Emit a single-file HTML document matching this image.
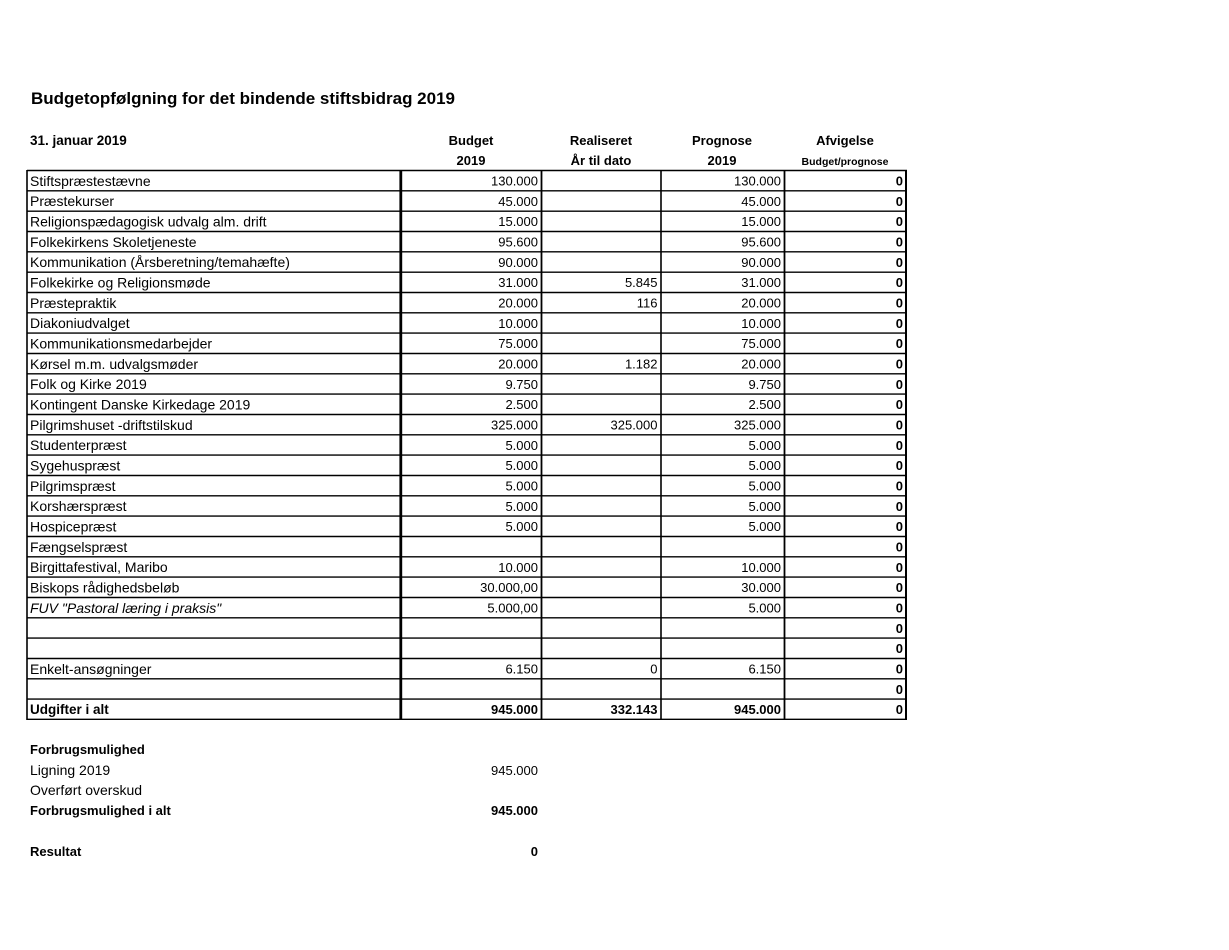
<!DOCTYPE html>
<html>
<head>
<meta charset="utf-8">
<style>
html,body{margin:0;padding:0;background:#fff;}
svg{display:block;}
text{font-family:"Liberation Sans",sans-serif;fill:#000;}
.b{font-weight:bold;}
.r{text-anchor:end;}
.c{text-anchor:middle;}
.l{font-size:14px;}
</style>
</head>
<body>
<svg width="1229" height="950" viewBox="0 0 1229 950" xmlns="http://www.w3.org/2000/svg">
<rect width="1229" height="950" fill="#fff"/>

<!-- Title -->
<text x="31" y="104" class="b" font-size="17" textLength="424" lengthAdjust="spacingAndGlyphs">Budgetopfølgning for det bindende stiftsbidrag 2019</text>

<!-- Header -->
<g font-size="13">
<text x="30" y="145" class="b" font-size="13.5">31. januar 2019</text>
<text x="471" y="145" class="b c">Budget</text>
<text x="471" y="165" class="b c">2019</text>
<text x="601" y="145" class="b c">Realiseret</text>
<text x="601" y="165" class="b c">År til dato</text>
<text x="722" y="145" class="b c">Prognose</text>
<text x="722" y="165" class="b c">2019</text>
<text x="845" y="145" class="b c">Afvigelse</text>
<text x="845" y="165" class="b c" font-size="10.5">Budget/prognose</text>
</g>

<!-- Horizontal lines -->
<g stroke="#000" stroke-width="1.4">
<line x1="27" x2="907" y1="170.5" y2="170.5"/>
<line x1="27" x2="907" y1="190.8" y2="190.8"/>
<line x1="27" x2="907" y1="211.2" y2="211.2"/>
<line x1="27" x2="907" y1="231.5" y2="231.5"/>
<line x1="27" x2="907" y1="251.8" y2="251.8"/>
<line x1="27" x2="907" y1="272.2" y2="272.2"/>
<line x1="27" x2="907" y1="292.5" y2="292.5"/>
<line x1="27" x2="907" y1="312.8" y2="312.8"/>
<line x1="27" x2="907" y1="333.1" y2="333.1"/>
<line x1="27" x2="907" y1="353.5" y2="353.5"/>
<line x1="27" x2="907" y1="373.8" y2="373.8"/>
<line x1="27" x2="907" y1="394.1" y2="394.1"/>
<line x1="27" x2="907" y1="414.5" y2="414.5"/>
<line x1="27" x2="907" y1="434.8" y2="434.8"/>
<line x1="27" x2="907" y1="455.1" y2="455.1"/>
<line x1="27" x2="907" y1="475.5" y2="475.5"/>
<line x1="27" x2="907" y1="495.8" y2="495.8"/>
<line x1="27" x2="907" y1="516.1" y2="516.1"/>
<line x1="27" x2="907" y1="536.5" y2="536.5"/>
<line x1="27" x2="907" y1="556.8" y2="556.8"/>
<line x1="27" x2="907" y1="577.1" y2="577.1"/>
<line x1="27" x2="907" y1="597.5" y2="597.5"/>
<line x1="27" x2="907" y1="617.8" y2="617.8"/>
<line x1="27" x2="907" y1="638.1" y2="638.1"/>
<line x1="27" x2="907" y1="658.5" y2="658.5"/>
<line x1="27" x2="907" y1="678.8" y2="678.8"/>
<line x1="27" x2="907" y1="699.1" y2="699.1"/>
<line x1="27" x2="907" y1="719.3" y2="719.3"/>
</g>
<!-- Vertical lines -->
<g stroke="#000">
<line x1="27" x2="27" y1="170" y2="720" stroke-width="1.6"/>
<line x1="400.8" x2="400.8" y1="170" y2="720" stroke-width="2.8"/>
<line x1="541.5" x2="541.5" y1="170" y2="720" stroke-width="1.8"/>
<line x1="661" x2="661" y1="170" y2="720" stroke-width="1.6"/>
<line x1="784.5" x2="784.5" y1="170" y2="720" stroke-width="1.8"/>
<line x1="906" x2="906" y1="170" y2="720" stroke-width="2"/>
</g>

<!-- Rows -->
<g font-size="13">
<!-- labels -->
<text x="30" y="185.8" class="l">Stiftspræstestævne</text>
<text x="30" y="206.1" class="l">Præstekurser</text>
<text x="30" y="226.5" class="l">Religionspædagogisk udvalg alm. drift</text>
<text x="30" y="246.8" class="l">Folkekirkens Skoletjeneste</text>
<text x="30" y="267.1" class="l">Kommunikation (Årsberetning/temahæfte)</text>
<text x="30" y="287.5" class="l">Folkekirke og Religionsmøde</text>
<text x="30" y="307.8" class="l">Præstepraktik</text>
<text x="30" y="328.1" class="l">Diakoniudvalget</text>
<text x="30" y="348.4" class="l">Kommunikationsmedarbejder</text>
<text x="30" y="368.8" class="l">Kørsel m.m. udvalgsmøder</text>
<text x="30" y="389.1" class="l">Folk og Kirke 2019</text>
<text x="30" y="409.4" class="l">Kontingent Danske Kirkedage 2019</text>
<text x="30" y="429.8" class="l">Pilgrimshuset -driftstilskud</text>
<text x="30" y="450.1" class="l">Studenterpræst</text>
<text x="30" y="470.4" class="l">Sygehuspræst</text>
<text x="30" y="490.8" class="l">Pilgrimspræst</text>
<text x="30" y="511.1" class="l">Korshærspræst</text>
<text x="30" y="531.4" class="l">Hospicepræst</text>
<text x="30" y="551.8" class="l">Fængselspræst</text>
<text x="30" y="572.1" class="l">Birgittafestival, Maribo</text>
<text x="30" y="592.4" class="l">Biskops rådighedsbeløb</text>
<text x="30" y="612.8" class="l" font-style="italic" fill="#222">FUV "Pastoral læring i praksis"</text>
<text x="30" y="673.8" class="l">Enkelt-ansøgninger</text>
<text x="30" y="714.1" class="b" font-size="13.5">Udgifter i alt</text>

<!-- Budget column -->
<text x="538" y="185.5" class="r">130.000</text>
<text x="538" y="205.8" class="r">45.000</text>
<text x="538" y="226.2" class="r">15.000</text>
<text x="538" y="246.5" class="r">95.600</text>
<text x="538" y="266.8" class="r">90.000</text>
<text x="538" y="287.2" class="r">31.000</text>
<text x="538" y="307.5" class="r">20.000</text>
<text x="538" y="327.8" class="r">10.000</text>
<text x="538" y="348.1" class="r">75.000</text>
<text x="538" y="368.5" class="r">20.000</text>
<text x="538" y="388.8" class="r">9.750</text>
<text x="538" y="409.1" class="r">2.500</text>
<text x="538" y="429.5" class="r">325.000</text>
<text x="538" y="449.8" class="r">5.000</text>
<text x="538" y="470.1" class="r">5.000</text>
<text x="538" y="490.5" class="r">5.000</text>
<text x="538" y="510.8" class="r">5.000</text>
<text x="538" y="531.1" class="r">5.000</text>
<text x="538" y="571.8" class="r">10.000</text>
<text x="538" y="592.1" class="r">30.000,00</text>
<text x="538" y="612.5" class="r">5.000,00</text>
<text x="538" y="673.5" class="r">6.150</text>
<text x="538" y="714.1" class="r b">945.000</text>

<!-- Realiseret column -->
<text x="657.5" y="287.2" class="r">5.845</text>
<text x="657.5" y="307.5" class="r">116</text>
<text x="657.5" y="368.5" class="r">1.182</text>
<text x="657.5" y="429.5" class="r">325.000</text>
<text x="657.5" y="673.5" class="r">0</text>
<text x="657.5" y="714.1" class="r b">332.143</text>

<!-- Prognose column -->
<text x="781" y="185.5" class="r">130.000</text>
<text x="781" y="205.8" class="r">45.000</text>
<text x="781" y="226.2" class="r">15.000</text>
<text x="781" y="246.5" class="r">95.600</text>
<text x="781" y="266.8" class="r">90.000</text>
<text x="781" y="287.2" class="r">31.000</text>
<text x="781" y="307.5" class="r">20.000</text>
<text x="781" y="327.8" class="r">10.000</text>
<text x="781" y="348.1" class="r">75.000</text>
<text x="781" y="368.5" class="r">20.000</text>
<text x="781" y="388.8" class="r">9.750</text>
<text x="781" y="409.1" class="r">2.500</text>
<text x="781" y="429.5" class="r">325.000</text>
<text x="781" y="449.8" class="r">5.000</text>
<text x="781" y="470.1" class="r">5.000</text>
<text x="781" y="490.5" class="r">5.000</text>
<text x="781" y="510.8" class="r">5.000</text>
<text x="781" y="531.1" class="r">5.000</text>
<text x="781" y="571.8" class="r">10.000</text>
<text x="781" y="592.1" class="r">30.000</text>
<text x="781" y="612.5" class="r">5.000</text>
<text x="781" y="673.5" class="r">6.150</text>
<text x="781" y="714.1" class="r b">945.000</text>

<!-- Afvigelse column -->
<g class="b">
<text x="903" y="185.5" class="r b">0</text>
<text x="903" y="205.8" class="r b">0</text>
<text x="903" y="226.2" class="r b">0</text>
<text x="903" y="246.5" class="r b">0</text>
<text x="903" y="266.8" class="r b">0</text>
<text x="903" y="287.2" class="r b">0</text>
<text x="903" y="307.5" class="r b">0</text>
<text x="903" y="327.8" class="r b">0</text>
<text x="903" y="348.1" class="r b">0</text>
<text x="903" y="368.5" class="r b">0</text>
<text x="903" y="388.8" class="r b">0</text>
<text x="903" y="409.1" class="r b">0</text>
<text x="903" y="429.5" class="r b">0</text>
<text x="903" y="449.8" class="r b">0</text>
<text x="903" y="470.1" class="r b">0</text>
<text x="903" y="490.5" class="r b">0</text>
<text x="903" y="510.8" class="r b">0</text>
<text x="903" y="531.1" class="r b">0</text>
<text x="903" y="551.5" class="r b">0</text>
<text x="903" y="571.8" class="r b">0</text>
<text x="903" y="592.1" class="r b">0</text>
<text x="903" y="612.5" class="r b">0</text>
<text x="903" y="632.8" class="r b">0</text>
<text x="903" y="653.1" class="r b">0</text>
<text x="903" y="673.5" class="r b">0</text>
<text x="903" y="693.8" class="r b">0</text>
<text x="903" y="714.1" class="r b">0</text>
</g>
</g>

<!-- Bottom section -->
<g font-size="13">
<text x="30" y="754" class="b">Forbrugsmulighed</text>
<text x="30" y="775" class="l">Ligning 2019</text>
<text x="538" y="775" class="r">945.000</text>
<text x="30" y="795" class="l">Overført overskud</text>
<text x="30" y="815" class="b">Forbrugsmulighed i alt</text>
<text x="538" y="815" class="r b">945.000</text>
<text x="30" y="856" class="b">Resultat</text>
<text x="538" y="856" class="r b">0</text>
</g>
</svg>
</body>
</html>
